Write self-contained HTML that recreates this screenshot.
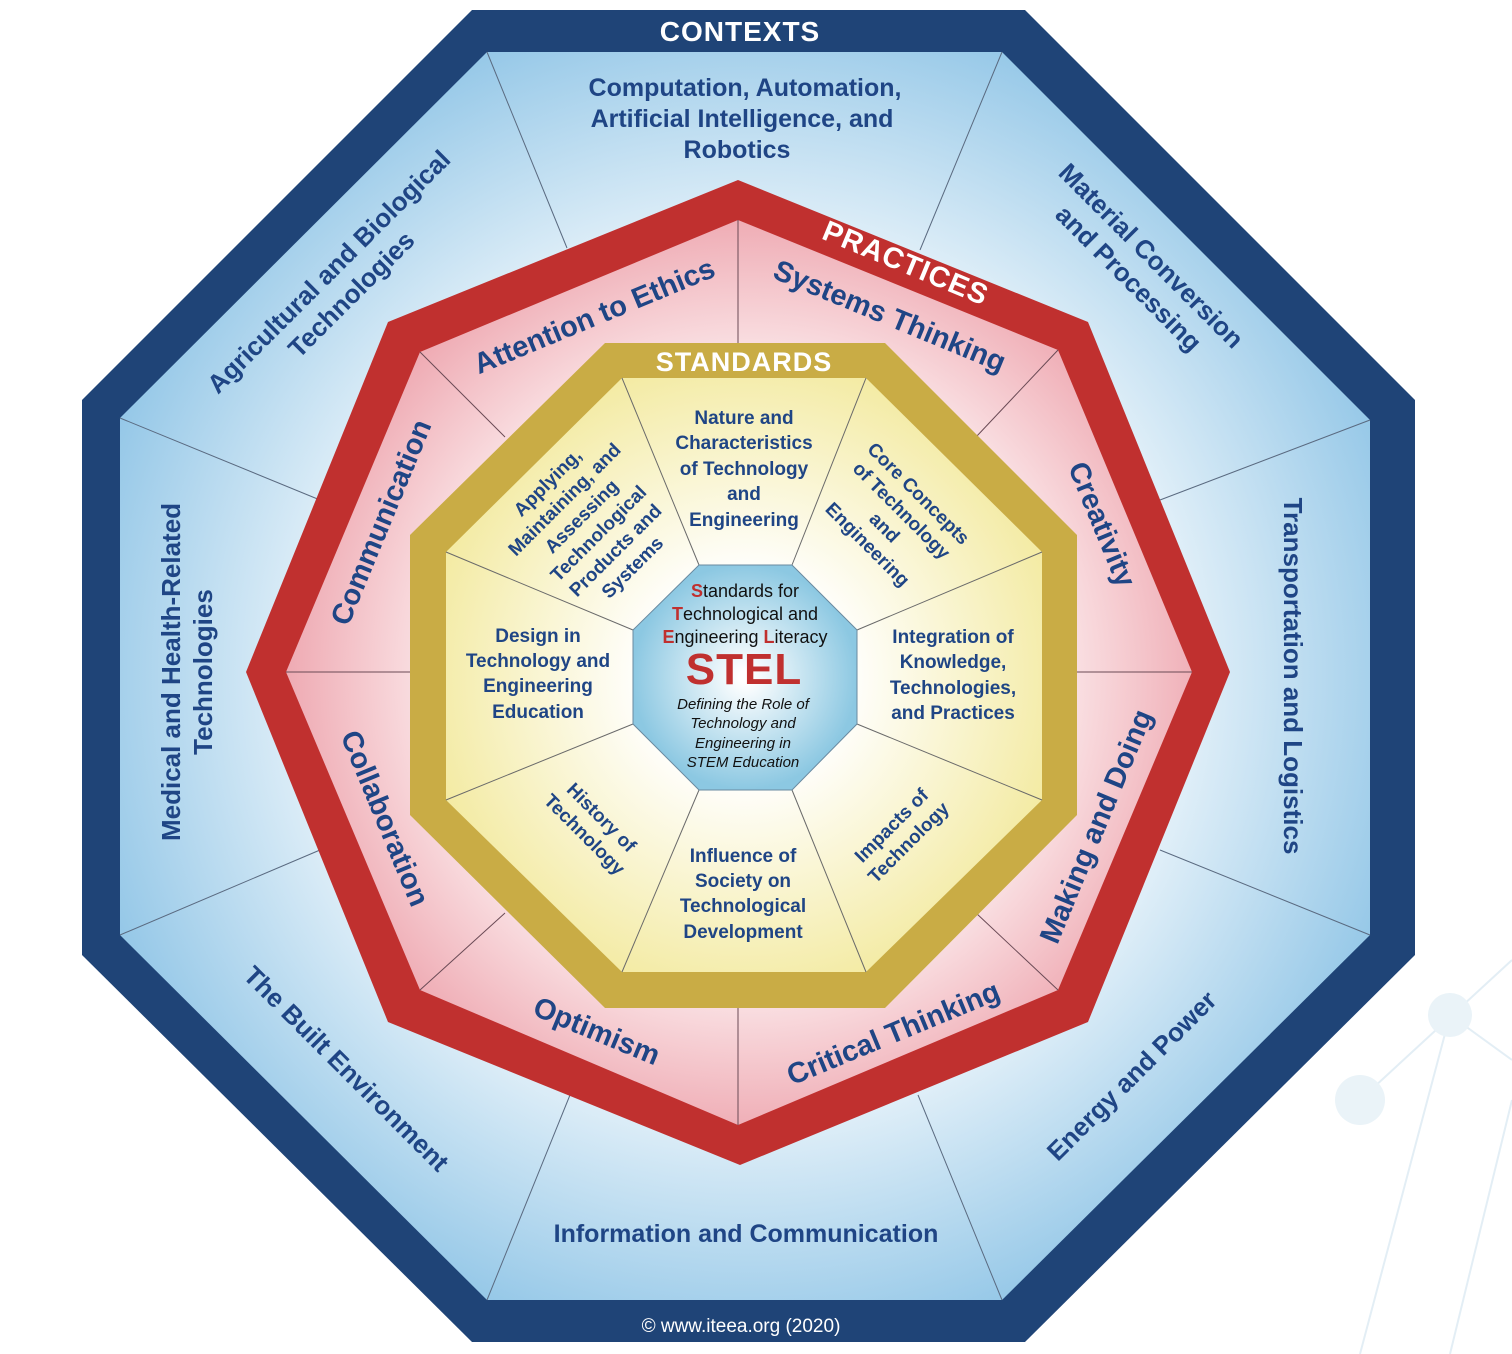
<!DOCTYPE html>
<html><head><meta charset="utf-8"><style>
html,body{margin:0;padding:0;background:#fff;}
svg{display:block;}
text{font-family:"Liberation Sans","DejaVu Sans",sans-serif;font-weight:bold;fill:#1f4585;text-anchor:middle;}
</style></head><body>
<svg width="1512" height="1354" viewBox="0 0 1512 1354" xmlns="http://www.w3.org/2000/svg">
<defs>
<radialGradient id="gb" cx="748" cy="676" r="700" gradientUnits="userSpaceOnUse">
<stop offset="0.5" stop-color="#ffffff"/><stop offset="1" stop-color="#8ec4e6"/></radialGradient>
<radialGradient id="gp" cx="748" cy="676" r="470" gradientUnits="userSpaceOnUse">
<stop offset="0.55" stop-color="#fffafa"/><stop offset="1" stop-color="#eea7b0"/></radialGradient>
<radialGradient id="gy" cx="745" cy="677" r="330" gradientUnits="userSpaceOnUse">
<stop offset="0.3" stop-color="#ffffff"/><stop offset="1" stop-color="#f3eaa0"/></radialGradient>
<radialGradient id="gc" cx="745" cy="677" r="125" gradientUnits="userSpaceOnUse">
<stop offset="0.05" stop-color="#ffffff"/><stop offset="0.9" stop-color="#8cc8e2"/></radialGradient>
</defs>
<g stroke="#e3eef5" stroke-width="2" fill="none">
<line x1="1512" y1="960" x2="1360" y2="1100"/><line x1="1450" y1="1015" x2="1512" y2="1060"/>
<line x1="1450" y1="1015" x2="1360" y2="1354"/><line x1="1512" y1="1100" x2="1450" y2="1354"/>
</g>
<circle cx="1450" cy="1015" r="22" fill="#eaf3f8"/><circle cx="1360" cy="1100" r="25" fill="#eaf3f8"/>
<!-- outer -->
<polygon points="472,10 1025,10 1415,400 1415,955 1025,1342 472,1342 82,955 82,400" fill="#1f4477"/>
<polygon points="487,52 1002,52 1370,420 1370,935 1002,1300 487,1300 120,935 120,418" fill="url(#gb)"/>
<g stroke="#5a6a80" stroke-width="1">
<line x1="487" y1="52" x2="567" y2="248"/><line x1="1002" y1="52" x2="920" y2="250"/>
<line x1="1370" y1="420" x2="1160" y2="500"/><line x1="1370" y1="935" x2="1160" y2="850"/>
<line x1="1002" y1="1300" x2="918" y2="1095"/><line x1="487" y1="1300" x2="570" y2="1095"/>
<line x1="120" y1="935" x2="320" y2="850"/><line x1="120" y1="418" x2="320" y2="500"/>
</g>
<!-- practices -->
<polygon points="738,180 1088,322 1230,672 1088,1022 740,1165 388,1022 246,672 388,322" fill="#c0302f"/>
<polygon points="738,220 1058,350 1192,672 1058,990 738,1125 420,990 286,672 420,352" fill="url(#gp)"/>
<g stroke="#6a4a55" stroke-width="1">
<line x1="738" y1="220" x2="738" y2="343"/><line x1="1058" y1="350" x2="976" y2="437"/>
<line x1="1192" y1="672" x2="1077" y2="672"/><line x1="1058" y1="990" x2="976" y2="913"/>
<line x1="738" y1="1125" x2="738" y2="1008"/><line x1="420" y1="990" x2="505" y2="913"/>
<line x1="286" y1="672" x2="410" y2="672"/><line x1="420" y1="352" x2="505" y2="437"/>
</g>
<!-- standards -->
<polygon points="605,343 885,343 1077,535 1077,815 885,1008 605,1008 410,815 410,535" fill="#c9ac45"/>
<polygon points="622,378 866,378 1042,552 1042,800 866,972 622,972 446,800 446,552" fill="url(#gy)"/>
<g stroke="#6a6a6a" stroke-width="1">
<line x1="622" y1="378" x2="699" y2="565"/><line x1="866" y1="378" x2="792" y2="565"/>
<line x1="1042" y1="552" x2="857" y2="630"/><line x1="1042" y1="800" x2="857" y2="724"/>
<line x1="866" y1="972" x2="792" y2="790"/><line x1="622" y1="972" x2="699" y2="790"/>
<line x1="446" y1="800" x2="633" y2="724"/><line x1="446" y1="552" x2="633" y2="630"/>
</g>
<polygon points="699,565 792,565 857,630 857,724 792,790 699,790 633,724 633,630" fill="url(#gc)" stroke="#6a8aa0" stroke-width="1"/>

<!-- headings -->
<text x="740" y="41" font-size="28" style="fill:#fff" letter-spacing="1">CONTEXTS</text>
<text x="744" y="371" font-size="27" style="fill:#fff" letter-spacing="1">STANDARDS</text>
<text transform="translate(902,272) rotate(22.5)" font-size="29" style="fill:#fff" letter-spacing="1">PRACTICES</text>

<!-- contexts -->
<g font-size="25">
<text x="745" y="96">Computation, Automation,</text>
<text x="742" y="127">Artificial Intelligence, and</text>
<text x="737" y="158">Robotics</text>
<text x="746" y="1242">Information and Communication</text>
</g>
<g font-size="26">
<text transform="translate(335,278) rotate(-45)"><tspan x="0" dy="0">Agricultural and Biological</tspan><tspan x="0" dy="32">Technologies</tspan></text>
<text transform="translate(1145,262) rotate(45)"><tspan x="0" dy="0">Material Conversion</tspan><tspan x="0" dy="32">and Processing</tspan></text>
<text transform="translate(1284,676) rotate(90)">Transportation and Logistics</text>
<text transform="translate(180,672) rotate(-90)"><tspan x="0" dy="0">Medical and Health-Related</tspan><tspan x="0" dy="32">Technologies</tspan></text>
<text transform="translate(1138,1082) rotate(-45)">Energy and Power</text>
<text transform="translate(340,1075) rotate(45)">The Built Environment</text>
</g>
<!-- practices -->
<g font-size="29">
<text transform="translate(598,325) rotate(-22.5)">Attention to Ethics</text>
<text transform="translate(886,325) rotate(22.5)">Systems Thinking</text>
<text transform="translate(1093,528) rotate(67.5)">Creativity</text>
<text transform="translate(1105,830) rotate(-67.5)">Making and Doing</text>
<text transform="translate(897,1042) rotate(-22.5)">Critical Thinking</text>
<text transform="translate(593,1040) rotate(22.5)">Optimism</text>
<text transform="translate(376,822) rotate(67.5)">Collaboration</text>
<text transform="translate(390,526) rotate(-67.5)">Communication</text>
</g>
<!-- standards -->
<g font-size="19">
<text x="744" y="424">Nature and</text>
<text x="744" y="449">Characteristics</text>
<text x="744" y="475">of Technology</text>
<text x="744" y="500">and</text>
<text x="744" y="526">Engineering</text>
<text x="538" y="642">Design in</text>
<text x="538" y="667">Technology and</text>
<text x="538" y="692">Engineering</text>
<text x="538" y="718">Education</text>
<text x="953" y="643">Integration of</text>
<text x="953" y="668">Knowledge,</text>
<text x="953" y="694">Technologies,</text>
<text x="953" y="719">and Practices</text>
<text x="743" y="862">Influence of</text>
<text x="743" y="887">Society on</text>
<text x="743" y="912">Technological</text>
<text x="743" y="938">Development</text>
<text transform="translate(552,487) rotate(-45)"><tspan x="0" dy="0">Applying,</tspan><tspan x="0" dy="24">Maintaining, and</tspan><tspan x="0" dy="24">Assessing</tspan><tspan x="0" dy="24">Technological</tspan><tspan x="0" dy="24">Products and</tspan><tspan x="0" dy="24">Systems</tspan></text>
<text transform="translate(914,498) rotate(45)"><tspan x="0" dy="0">Core Concepts</tspan><tspan x="0" dy="24">of Technology</tspan><tspan x="0" dy="24">and</tspan><tspan x="0" dy="24">Engineering</tspan></text>
<text transform="translate(896,830) rotate(-45)"><tspan x="0" dy="0">Impacts of</tspan><tspan x="0" dy="24">Technology</tspan></text>
<text transform="translate(597,822) rotate(45)"><tspan x="0" dy="0">History of</tspan><tspan x="0" dy="24">Technology</tspan></text>
</g>
<!-- center -->
<g font-size="18">
<text x="745" y="597" style="fill:#111;font-weight:normal"><tspan style="fill:#c0302f;font-weight:bold">S</tspan>tandards for</text>
<text x="745" y="620" style="fill:#111;font-weight:normal"><tspan style="fill:#c0302f;font-weight:bold">T</tspan>echnological and</text>
<text x="745" y="643" style="fill:#111;font-weight:normal"><tspan style="fill:#c0302f;font-weight:bold">E</tspan>ngineering <tspan style="fill:#c0302f;font-weight:bold">L</tspan>iteracy</text>
</g>
<text x="744" y="684" font-size="44" style="fill:#c0302f" letter-spacing="1">STEL</text>
<g font-size="15">
<text x="743" y="709" style="fill:#111;font-weight:normal;font-style:italic">Defining the Role of</text>
<text x="743" y="728" style="fill:#111;font-weight:normal;font-style:italic">Technology and</text>
<text x="743" y="748" style="fill:#111;font-weight:normal;font-style:italic">Engineering in</text>
<text x="743" y="767" style="fill:#111;font-weight:normal;font-style:italic">STEM Education</text>
</g>
<text x="741" y="1332" font-size="19" style="fill:#fff;font-weight:normal">© www.iteea.org (2020)</text>
</svg>
</body></html>
